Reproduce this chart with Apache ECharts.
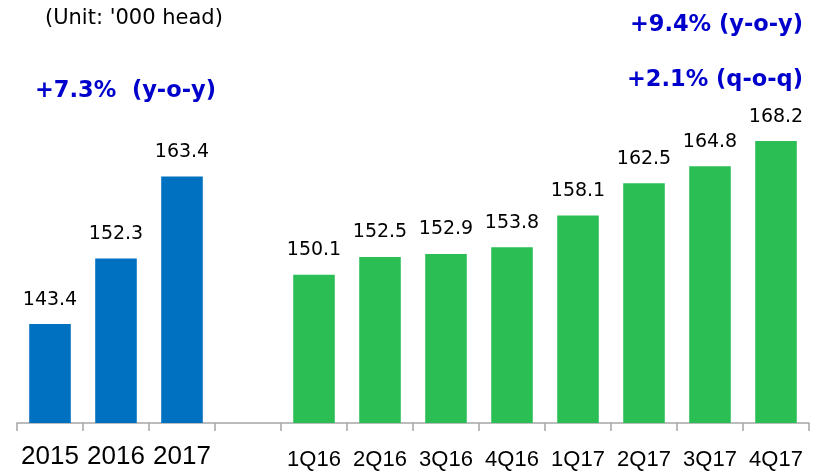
<!DOCTYPE html>
<html>
<head>
<meta charset="utf-8">
<title>Head count</title>
<script src="https://cdn.jsdelivr.net/npm/echarts@6/dist/echarts.min.js"></script>
</head>
<body style="margin:0">
<div id="main" style="width:818px;height:471px;"></div>
<script type="text/javascript">
// data
var categories = ['2015', '2016', '2017', '', '1Q16', '2Q16', '3Q16', '4Q16', '1Q17', '2Q17', '3Q17', '4Q17'];
var yearValues = [143.4, 152.3, 163.4];
var quarterValues = [150.1, 152.5, 152.9, 153.8, 158.1, 162.5, 164.8, 168.2];
var unitText = "(Unit: '000 head)";
var yearGrowth = '+7.3%  (y-o-y)';
var quarterYoy = '+9.4% (y-o-y)';
var quarterQoq = '+2.1% (q-o-q)';

// annual bars in the first slots, quarterly bars after the empty slot
var yearData = [];
var quarterData = [];
for (var i = 0; i < categories.length; i++) {
    yearData.push(i < yearValues.length ? yearValues[i] : '-');
    var q = i - yearValues.length - 1;
    quarterData.push(q >= 0 ? quarterValues[q] : '-');
}

var myChart = echarts.init(document.getElementById('main'));

var labelStyle = {
    show: true,
    position: 'top',
    distance: 15,
    color: '#000',
    fontFamily: 'DejaVu Sans',
    fontSize: 19,
    formatter: function (p) { return p.value.toFixed(1); }
};

var blueFont = 'bold 22.5px "DejaVu Sans"';

var option = {
    animation: false,
    grid: { left: 17, right: 9, top: 54, bottom: 47 },
    xAxis: {
        type: 'category',
        data: categories,
        boundaryGap: true,
        axisLine: { lineStyle: { color: '#A6A6A6', width: 1.5 } },
        axisTick: { show: true, length: 8, lineStyle: { color: '#A6A6A6', width: 1.5 } },
        axisLabel: {
            margin: 21,
            interval: 0,
            color: '#000',
            fontFamily: 'Liberation Sans',
            formatter: function (v, idx) {
                return idx < 3 ? '{y|' + v + '}' : '{q|' + v + '}';
            },
            rich: {
                y: { fontSize: 26, fontFamily: 'Liberation Sans', color: '#000' },
                q: { fontSize: 22, fontFamily: 'Liberation Sans', color: '#000', padding: [5, 0, 0, 0] }
            }
        }
    },
    yAxis: {
        type: 'value',
        min: 130,
        max: 180,
        show: false,
        splitLine: { show: false }
    },
    series: [
        {
            name: 'Annual',
            type: 'bar',
            stack: 'all',
            barWidth: '63%',
            itemStyle: { color: '#0070C0' },
            label: labelStyle,
            data: yearData
        },
        {
            name: 'Quarterly',
            type: 'bar',
            stack: 'all',
            barWidth: '63%',
            itemStyle: { color: '#2BBE55' },
            label: labelStyle,
            data: quarterData
        }
    ],
    graphic: [
        {
            type: 'text', left: 45, top: 8,
            style: { text: unitText, fill: '#000', font: '21px "DejaVu Sans"' }
        },
        {
            type: 'text', left: 35, top: 80,
            style: { text: yearGrowth, fill: '#0000CC', font: blueFont }
        },
        {
            type: 'text', right: 15, top: 14,
            style: { text: quarterYoy, fill: '#0000CC', font: blueFont }
        },
        {
            type: 'text', right: 15, top: 69,
            style: { text: quarterQoq, fill: '#0000CC', font: blueFont }
        }
    ]
};

myChart.setOption(option);
</script>
</body>
</html>
